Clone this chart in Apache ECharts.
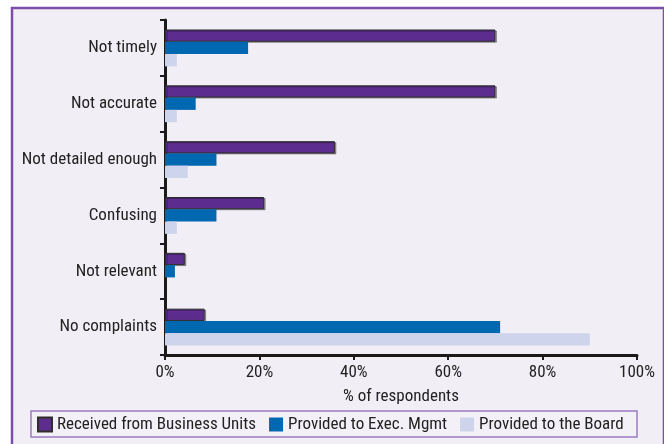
<!DOCTYPE html>
<html>
<head>
<meta charset="utf-8">
<style>
  html, body { margin: 0; padding: 0; background: #ffffff; }
  #chart { width: 664px; height: 444px; }
</style>
<script src="https://cdn.jsdelivr.net/npm/echarts@6/dist/echarts.min.js"></script>
</head>
<body>
<div id="chart"></div>
<script>
// Complaints about risk reporting, by direction of the report
const categories = ['Not timely', 'Not accurate', 'Not detailed enough', 'Confusing', 'Not relevant', 'No complaints'];
const receivedFromBU = [70, 70, 36, 21, 4.2, 8.4];
const providedToExec = [17.6, 6.5, 10.9, 10.9, 2.1, 71];
const providedToBoard = [2.5, 2.5, 4.8, 2.5, 0, 90];
const xTicks = [0, 20, 40, 60, 80, 100];

const FONT = '"Roboto Condensed", "Liberation Sans", sans-serif';
const TEXT = '#222222';
const FS = 17;

const chart = echarts.init(document.getElementById('chart'), null, { renderer: 'canvas' });

chart.setOption({
  animation: false,
  backgroundColor: '#ffffff',
  textStyle: { fontFamily: FONT },
  graphic: [
    {
      type: 'rect', z: -10, silent: true,
      shape: { x: 12, y: 8, width: 652, height: 450 },
      style: { fill: '#F1EEF5', stroke: '#7B4FA9', lineWidth: 2.5 }
    },
    {
      type: 'rect', z: -5, silent: true,
      shape: { x: 31, y: 411, width: 606, height: 26 },
      style: { fill: '#F3F1F7', stroke: '#9A7CC2', lineWidth: 1.5 }
    }
  ],
  grid: { left: 165, right: 27, top: 20, bottom: 89, containLabel: false },
  legend: {
    left: 32, top: 411, padding: [5, 5, 5, 5],
    itemWidth: 14, itemHeight: 14, itemGap: 13,
    icon: 'rect',
    textStyle: { fontFamily: FONT, fontSize: FS, color: TEXT },
    data: ['Received from Business Units', 'Provided to Exec. Mgmt', 'Provided to the Board']
  },
  xAxis: {
    type: 'value', min: 0, max: 100, interval: 20,
    name: '% of respondents', nameLocation: 'middle', nameGap: 33,
    nameTextStyle: { fontFamily: FONT, fontSize: FS, color: TEXT },
    axisLine: { show: true, lineStyle: { color: '#1a1a1a', width: 3 } },
    axisTick: { show: true, length: 5, lineStyle: { color: '#1a1a1a', width: 2 } },
    axisLabel: {
      fontFamily: FONT, fontSize: FS, color: TEXT, margin: 9,
      formatter: v => xTicks.includes(v) ? v + '%' : ''
    },
    splitLine: { show: false }
  },
  yAxis: {
    type: 'category', data: categories, inverse: true,
    axisLine: { show: true, lineStyle: { color: '#1a1a1a', width: 3 } },
    axisTick: { show: true, length: 5, lineStyle: { color: '#1a1a1a', width: 2 } },
    axisLabel: { fontFamily: FONT, fontSize: FS, color: TEXT, margin: 8 }
  },
  series: [
    {
      name: 'Received from Business Units', type: 'bar', data: receivedFromBU,
      barGap: '0%', barCategoryGap: '34%',
      itemStyle: {
        color: '#5C2D8E', borderColor: '#2e2e2e', borderWidth: 1,
        shadowColor: 'rgba(0,0,0,0.35)', shadowOffsetX: 1.5, shadowOffsetY: 1
      }
    },
    {
      name: 'Provided to Exec. Mgmt', type: 'bar', data: providedToExec,
      barGap: '0%', barCategoryGap: '34%',
      itemStyle: { color: '#0067B1' }
    },
    {
      name: 'Provided to the Board', type: 'bar', data: providedToBoard,
      barGap: '0%', barCategoryGap: '34%',
      itemStyle: { color: '#CDD4EC' }
    }
  ]
});
</script>
</body>
</html>
